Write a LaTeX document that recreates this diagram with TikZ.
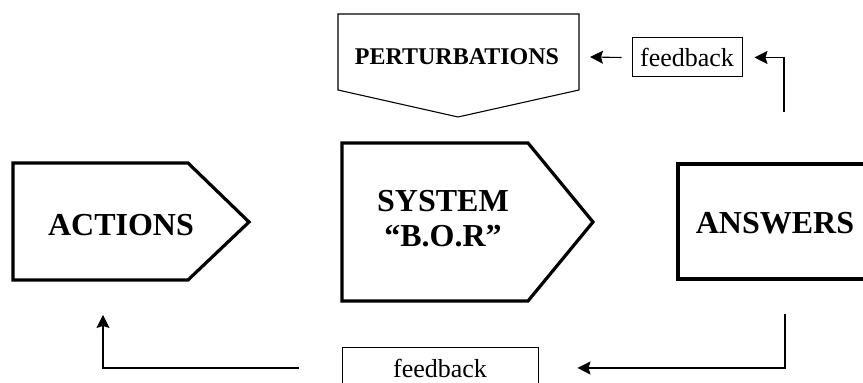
\documentclass[tikz,border=0pt]{standalone}
\usepackage{fontspec}
\setmainfont{Liberation Serif}
\usetikzlibrary{arrows.meta}
\definecolor{cInk}{RGB}{0,0,0}

\begin{document}
\begin{tikzpicture}[
  x=0.5pt, y=-0.5pt, color=cInk,
  blk/.style  ={draw=cInk, line width=1.6pt, line join=miter},
  thin/.style ={draw=cInk, line width=0.55pt},
  fbk/.style  ={-{Stealth[length=6.5pt,width=6.5pt,inset=1pt]}, line width=0.55pt, draw=cInk},
  big/.style  ={font=\bfseries\fontsize{16}{17.5}\selectfont, align=center},
  fbbox/.style={draw=cInk, line width=0.5pt, inner sep=0pt,
                font=\fontsize{13}{15}\selectfont},
]
\useasboundingbox (0,0) rectangle (863,383);

% ----- the three blocks of the main row ----------------------------------
\draw[blk] (13,163) -- (188,163) -- (249,222) -- (188,280) -- (13,280) -- cycle;
\draw[blk] (342,143) -- (528,143) -- (593,222) -- (528,301) -- (342,301) -- cycle;
\draw[blk] (880,164) -- (678,164) -- (678,279) -- (880,279);
\node[big] (act) at (121,225) {ACTIONS};
\node[big] (sys) at (443,219) {SYSTEM\\``B.O.R''};
\node[big] (ans) at (775,223) {ANSWERS};

% ----- perturbations, pointing down onto the system ----------------------
\draw[thin] (338,14) -- (579,14) -- (579,90) -- (458,117) -- (338,90) -- cycle;
\node[font=\bfseries\fontsize{12}{14}\selectfont] (pert) at (457,57) {PERTURBATIONS};
\coordinate (pertR) at (579,57);

% ----- feedback, upper loop ----------------------------------------------
\node[fbbox, minimum width=55pt, minimum height=19.5pt] (fbtop) at (687,57.5) {feedback};
\coordinate (ansTop) at (784,112);
\draw[fbk] ([xshift=-5pt]fbtop.west) -- ([xshift=5.5pt]pertR);
\draw[fbk] (ansTop) |- ([xshift=6pt]fbtop.east);

% ----- feedback, lower loop ----------------------------------------------
\node[fbbox, minimum width=98pt, minimum height=20pt] (fbbot) at (440,368) {feedback};
\coordinate (ansBot) at (785,314);
\coordinate (actBot) at (103,315);
\draw[fbk] (ansBot) |- ([xshift=19.5pt]fbbot.east);
\draw[fbk] ([xshift=-21.5pt]fbbot.west) -| (actBot);

\end{tikzpicture}
\end{document}
